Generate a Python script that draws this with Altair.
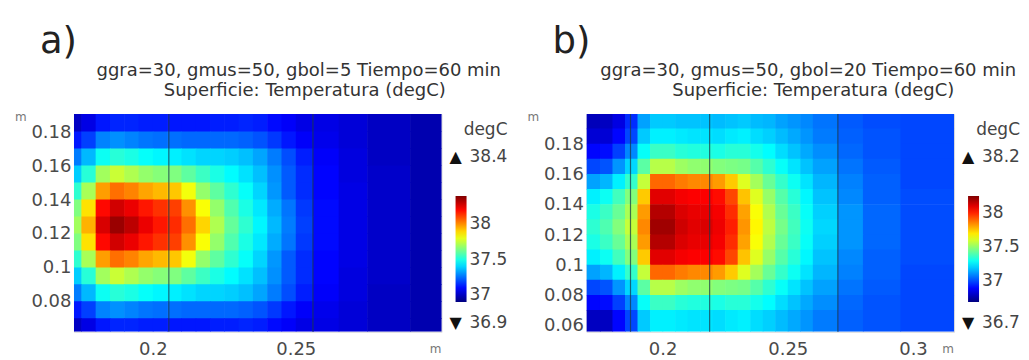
import altair as alt
import pandas as pd

# ---------------- panel a (gbol = 5) ----------------
A_X_EDGES = [0.1724, 0.175, 0.18, 0.185, 0.19, 0.195, 0.2, 0.205, 0.21, 0.215, 0.22,
             0.225, 0.23, 0.235, 0.24, 0.245, 0.25, 0.256, 0.265, 0.275, 0.29, 0.301]
A_Y_EDGES = [0.0624, 0.07, 0.08, 0.09, 0.10, 0.11, 0.12, 0.13, 0.14, 0.15, 0.16, 0.17, 0.18, 0.1906]
# temperature rows (degC), listed from top (y=0.185) to bottom (y=0.066)
A_ROWS = [
    [37.00, 37.05, 37.12, 37.14, 37.14, 37.13, 37.13, 37.12, 37.12, 37.12, 37.13, 37.13, 37.14, 37.13, 37.10, 37.08, 37.05, 37.05, 37.03, 37.00, 36.97],
    [37.12, 37.18, 37.28, 37.30, 37.28, 37.26, 37.25, 37.25, 37.24, 37.24, 37.24, 37.24, 37.23, 37.21, 37.17, 37.12, 37.08, 37.06, 37.03, 37.00, 36.97],
    [37.27, 37.36, 37.48, 37.52, 37.50, 37.47, 37.45, 37.44, 37.42, 37.40, 37.40, 37.39, 37.37, 37.33, 37.27, 37.20, 37.13, 37.08, 37.04, 37.00, 36.97],
    [37.39, 37.52, 37.70, 37.76, 37.72, 37.68, 37.66, 37.65, 37.60, 37.55, 37.50, 37.46, 37.42, 37.37, 37.30, 37.22, 37.15, 37.09, 37.04, 37.01, 36.97],
    [37.53, 37.71, 37.98, 38.05, 38.02, 37.97, 37.94, 37.92, 37.82, 37.68, 37.60, 37.53, 37.47, 37.40, 37.31, 37.22, 37.15, 37.09, 37.05, 37.01, 36.97],
    [37.65, 37.88, 38.20, 38.28, 38.24, 38.18, 38.14, 38.12, 38.00, 37.83, 37.68, 37.58, 37.50, 37.43, 37.34, 37.26, 37.17, 37.10, 37.05, 37.01, 36.97],
    [37.70, 37.95, 38.27, 38.36, 38.31, 38.24, 38.18, 38.15, 38.05, 37.90, 37.72, 37.61, 37.53, 37.45, 37.36, 37.27, 37.18, 37.10, 37.05, 37.01, 36.97],
    [37.65, 37.88, 38.20, 38.28, 38.24, 38.18, 38.14, 38.12, 38.00, 37.83, 37.68, 37.58, 37.50, 37.43, 37.34, 37.26, 37.17, 37.10, 37.05, 37.01, 36.97],
    [37.53, 37.71, 37.98, 38.05, 38.02, 37.97, 37.94, 37.92, 37.82, 37.68, 37.60, 37.53, 37.47, 37.40, 37.31, 37.22, 37.15, 37.09, 37.05, 37.01, 36.97],
    [37.39, 37.52, 37.70, 37.76, 37.72, 37.68, 37.66, 37.65, 37.60, 37.55, 37.50, 37.46, 37.42, 37.37, 37.30, 37.22, 37.15, 37.09, 37.04, 37.01, 36.97],
    [37.27, 37.36, 37.48, 37.52, 37.50, 37.47, 37.45, 37.44, 37.42, 37.40, 37.40, 37.39, 37.37, 37.33, 37.27, 37.20, 37.13, 37.08, 37.04, 37.00, 36.97],
    [37.12, 37.18, 37.28, 37.30, 37.28, 37.26, 37.25, 37.25, 37.24, 37.24, 37.24, 37.24, 37.23, 37.21, 37.17, 37.12, 37.08, 37.06, 37.03, 37.00, 36.97],
    [37.00, 37.05, 37.12, 37.14, 37.14, 37.13, 37.13, 37.12, 37.12, 37.12, 37.13, 37.13, 37.14, 37.13, 37.10, 37.08, 37.05, 37.05, 37.03, 37.00, 36.97],
]
A_X_DOMAIN = [0.1724, 0.301]
A_Y_DOMAIN = [0.0624, 0.1906]
A_X_TICKS = [0.2, 0.25]
A_Y_TICKS = [0.08, 0.1, 0.12, 0.14, 0.16, 0.18]
A_BOUNDARIES = [0.2056, 0.256]
A_T_RANGE = [36.9, 38.4]
A_T_LABELS = ["38.4", "36.9"]
A_TITLE = ["ggra=30, gmus=50, gbol=5 Tiempo=60 min", "Superficie: Temperatura (degC)"]
A_TITLE_X = [225, 231]
A_LETTER = "a)"

# ---------------- panel b (gbol = 20) ----------------
B_X_EDGES = [0.1696, 0.175, 0.18, 0.185, 0.19, 0.195, 0.2, 0.205, 0.21, 0.215, 0.22, 0.225,
             0.23, 0.235, 0.24, 0.245, 0.25, 0.255, 0.26, 0.27, 0.28, 0.295, 0.3164]
B_Y_EDGES = [0.056, 0.07, 0.08, 0.09, 0.10, 0.11, 0.12, 0.13, 0.14, 0.15, 0.16, 0.17, 0.18, 0.19, 0.20]
# rows from top (y=0.195) to bottom (y=0.063)
B_ROWS = [
    [36.79, 36.80, 36.85, 36.96, 37.14, 37.20, 37.20, 37.19, 37.19, 37.19, 37.18, 37.19, 37.20, 37.18, 37.17, 37.14, 37.12, 37.10, 37.07, 37.03, 37.01, 37.00],
    [36.83, 36.83, 36.90, 37.00, 37.20, 37.26, 37.26, 37.25, 37.24, 37.24, 37.23, 37.25, 37.26, 37.23, 37.21, 37.18, 37.15, 37.12, 37.08, 37.04, 37.02, 37.00],
    [36.90, 36.91, 36.99, 37.10, 37.29, 37.37, 37.37, 37.34, 37.33, 37.33, 37.32, 37.34, 37.34, 37.31, 37.28, 37.23, 37.19, 37.15, 37.11, 37.05, 37.02, 37.00],
    [37.00, 37.02, 37.12, 37.22, 37.42, 37.56, 37.56, 37.52, 37.50, 37.50, 37.48, 37.47, 37.46, 37.41, 37.35, 37.29, 37.24, 37.19, 37.14, 37.07, 37.03, 37.00],
    [37.14, 37.17, 37.26, 37.36, 37.58, 37.90, 37.90, 37.87, 37.85, 37.85, 37.82, 37.75, 37.62, 37.53, 37.44, 37.36, 37.30, 37.24, 37.17, 37.09, 37.04, 37.00],
    [37.26, 37.30, 37.38, 37.48, 37.75, 38.10, 38.10, 38.07, 38.06, 38.06, 38.04, 37.95, 37.76, 37.62, 37.51, 37.41, 37.34, 37.27, 37.19, 37.10, 37.04, 37.01],
    [37.32, 37.37, 37.44, 37.54, 37.82, 38.17, 38.17, 38.11, 38.09, 38.09, 38.07, 37.99, 37.81, 37.66, 37.55, 37.44, 37.37, 37.29, 37.21, 37.12, 37.05, 37.01],
    [37.35, 37.40, 37.48, 37.58, 37.85, 38.20, 38.20, 38.13, 38.10, 38.11, 38.08, 38.01, 37.83, 37.68, 37.57, 37.46, 37.38, 37.30, 37.22, 37.12, 37.05, 37.01],
    [37.32, 37.37, 37.44, 37.54, 37.82, 38.17, 38.17, 38.11, 38.09, 38.09, 38.07, 37.99, 37.81, 37.66, 37.55, 37.44, 37.37, 37.29, 37.21, 37.12, 37.05, 37.01],
    [37.26, 37.30, 37.38, 37.48, 37.75, 38.10, 38.10, 38.07, 38.06, 38.06, 38.04, 37.95, 37.76, 37.62, 37.51, 37.41, 37.34, 37.27, 37.19, 37.10, 37.04, 37.01],
    [37.14, 37.17, 37.26, 37.36, 37.58, 37.90, 37.90, 37.87, 37.85, 37.85, 37.82, 37.75, 37.62, 37.53, 37.44, 37.36, 37.30, 37.24, 37.17, 37.09, 37.04, 37.00],
    [37.00, 37.02, 37.12, 37.22, 37.42, 37.56, 37.56, 37.52, 37.50, 37.50, 37.48, 37.47, 37.46, 37.41, 37.35, 37.29, 37.24, 37.19, 37.14, 37.07, 37.03, 37.00],
    [36.90, 36.91, 36.99, 37.10, 37.29, 37.37, 37.37, 37.34, 37.33, 37.33, 37.32, 37.34, 37.34, 37.31, 37.28, 37.23, 37.19, 37.15, 37.11, 37.05, 37.02, 37.00],
    [36.80, 36.80, 36.90, 37.00, 37.20, 37.26, 37.26, 37.25, 37.24, 37.24, 37.23, 37.25, 37.26, 37.23, 37.21, 37.18, 37.15, 37.12, 37.08, 37.04, 37.02, 37.00],
]
B_X_DOMAIN = [0.1696, 0.3164]
B_Y_DOMAIN = [0.056, 0.20]
B_X_TICKS = [0.2, 0.25, 0.3]
B_Y_TICKS = [0.06, 0.08, 0.1, 0.12, 0.14, 0.16, 0.18]
B_BOUNDARIES = [0.1872, 0.2188, 0.27]
B_T_RANGE = [36.7, 38.25]
B_T_LABELS = ["38.2", "36.7"]
B_TITLE = ["ggra=30, gmus=50, gbol=20 Tiempo=60 min", "Superficie: Temperatura (degC)"]
B_TITLE_X = [222, 227]
B_LETTER = "b)"

LEGEND_TICKS = [37, 37.5, 38]
JET = ["#00007f", "#0000ff", "#00ffff", "#ffff00", "#ff0000", "#7f0000"]
JET_POS = [0, 0.125, 0.375, 0.625, 0.875, 1.0]

FONT = "DejaVu Sans"
W, H = 368, 218


def grid_frame(xe, ye, rows):
    recs = []
    n = len(rows)
    for i, row in enumerate(rows):
        j = n - 1 - i
        for k, v in enumerate(row):
            recs.append({"x": xe[k], "x2": xe[k + 1], "y": ye[j], "y2": ye[j + 1], "T": v})
    return pd.DataFrame(recs)


def label(text, x, y, size=18, align="left", color="#444", baseline="middle"):
    return alt.Chart(pd.DataFrame({"t": [text]})).mark_text(
        font=FONT, fontSize=size, align=align, baseline=baseline, color=color
    ).encode(text="t:N", x=alt.value(x), y=alt.value(y))


def panel(xe, ye, rows, xdom, ydom, xticks, yticks, bounds, trange, tlabels, title, title_x, letter):
    lo, hi = trange
    stops = [lo + p * (hi - lo) for p in JET_POS]
    cscale = alt.Scale(domain=stops, range=JET, interpolate="rgb")
    xs = alt.Scale(domain=xdom, nice=False, zero=False)
    ys = alt.Scale(domain=ydom, nice=False, zero=False)
    xaxis = alt.Axis(values=xticks, format=".2~f", title=None, ticks=False, domain=False,
                     grid=False, labelPadding=9, labelFontSize=18, labelColor="#4a4a4a",
                     labelFont=FONT)
    yaxis = alt.Axis(values=yticks, format=".2~f", title=None, ticks=False, domain=False,
                     grid=False, labelPadding=3, labelFontSize=18, labelColor="#4a4a4a",
                     labelFont=FONT)
    df = grid_frame(xe, ye, rows)
    heat = alt.Chart(df).mark_rect(x2Offset=0.6, y2Offset=-0.6, clip=True).encode(
        x=alt.X("x:Q", scale=xs, axis=xaxis),
        x2="x2:Q",
        y=alt.Y("y:Q", scale=ys, axis=yaxis),
        y2="y2:Q",
        color=alt.Color("T:Q", scale=cscale, legend=alt.Legend(
            type="gradient", orient="none", legendX=382, legendY=82, direction="vertical",
            gradientLength=106, gradientThickness=11, gradientStrokeWidth=0,
            values=LEGEND_TICKS, format=".3~r", title=None, labelFontSize=17, labelFont=FONT,
            labelColor="#444", labelOffset=3, labelOverlap=False)),
    )
    rules = alt.Chart(pd.DataFrame({"b": bounds})).mark_rule(
        color="#1c3a4a", strokeWidth=1.2, opacity=0.75
    ).encode(x=alt.X("b:Q", scale=xs))
    texts = [
        label(letter, -34, -61, size=37, color="#222", baseline="alphabetic"),
        label(title[0], title_x[0], -38, size=18, align="center", color="#333", baseline="alphabetic"),
        label(title[1], title_x[1], -18, size=18, align="center", color="#333", baseline="alphabetic"),
        label("m", -59, 3, size=12, color="#777"),
        label("m", 362, 235, size=12, align="center", color="#777"),
        label("degC", 434, 16, size=17, align="right"),
        label("\u25b2", 382, 43, size=16, align="center", color="#111"),
        label(tlabels[0], 396, 43, size=17),
        label("\u25bc", 382, 209, size=16, align="center", color="#111"),
        label(tlabels[1], 396, 209, size=17),
    ]
    return alt.layer(heat, rules, *texts).properties(width=W, height=H)


pa = panel(A_X_EDGES, A_Y_EDGES, A_ROWS, A_X_DOMAIN, A_Y_DOMAIN, A_X_TICKS, A_Y_TICKS,
           A_BOUNDARIES, A_T_RANGE, A_T_LABELS, A_TITLE, A_TITLE_X, A_LETTER)
pb = panel(B_X_EDGES, B_Y_EDGES, B_ROWS, B_X_DOMAIN, B_Y_DOMAIN, B_X_TICKS, B_Y_TICKS,
           B_BOUNDARIES, B_T_RANGE, B_T_LABELS, B_TITLE, B_TITLE_X, B_LETTER)

chart = alt.hconcat(pa, pb, spacing=145, bounds="flush").resolve_scale(
    color="independent", x="independent", y="independent"
).resolve_legend(color="independent").properties(
    padding={"left": 6, "top": 14, "right": 0, "bottom": 0}
).configure_view(strokeWidth=0).configure(font=FONT)

chart.save("out.html", embed_options={"renderer": "svg", "actions": False})
